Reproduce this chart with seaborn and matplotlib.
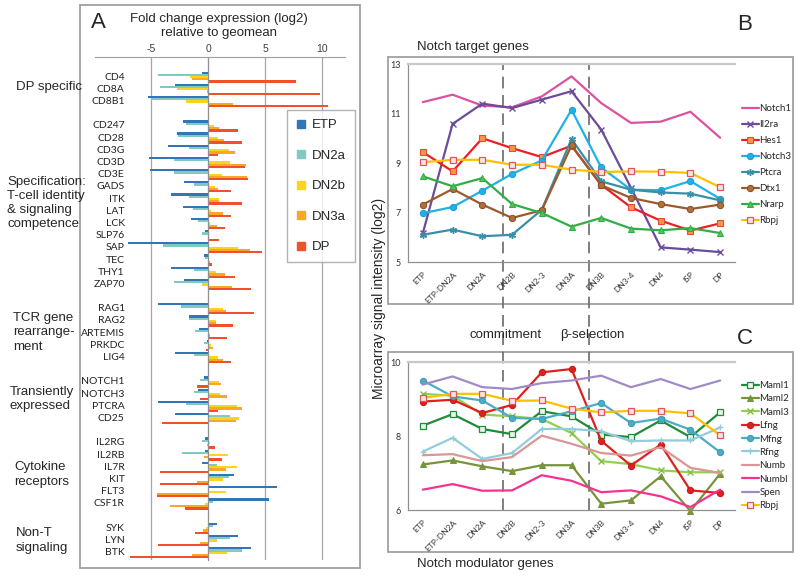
import numpy as np
import pandas as pd
import matplotlib
matplotlib.use("Agg")
import matplotlib.pyplot as plt
from matplotlib.patches import Rectangle
from matplotlib.lines import Line2D
import seaborn as sns

sns.set_style("white")
plt.rcParams['font.family'] = ['Liberation Sans', 'DejaVu Sans']
CAL = ['Lato', 'DejaVu Sans']

# ---------------- Panel A data ----------------
dp_genes = ['CD4', 'CD8A', 'CD8B1']
spec_genes = ['CD247', 'CD28', 'CD3G', 'CD3D', 'CD3E', 'GADS', 'ITK', 'LAT', 'LCK',
              'SLP76', 'SAP', 'TEC', 'THY1', 'ZAP70']
tcr_genes = ['RAG1', 'RAG2', 'ARTEMIS', 'PRKDC', 'LIG4']
trans_genes = ['NOTCH1', 'NOTCH3', 'PTCRA', 'CD25']
cyto_genes = ['IL2RG', 'IL2RB', 'IL7R', 'KIT', 'FLT3', 'CSF1R']
nont_genes = ['SYK', 'LYN', 'BTK']
gene_groups = [dp_genes, spec_genes, tcr_genes, trans_genes, cyto_genes, nont_genes]
group_names = ['DP specific', 'Specification:\nT-cell identity\n& signaling\ncompetence',
               'TCR gene\nrearrange-\nment', 'Transiently\nexpressed',
               'Cytokine\nreceptors', 'Non-T\nsignaling']

stages_a = ['ETP', 'DN2a', 'DN2b', 'DN3a', 'DP']
etp = [-0.55, -2.9, -5.3,
       -2.2, -2.7, -3.5, -5.2, -5.1, -2.1, -3.2, -2.2, -1.5, -0.25, -7.0, -0.35, -3.2, -2.1,
       -4.4, -1.7, -0.75, -0.1, -2.9,
       -0.35, -0.85, -4.4, -2.9,
       -0.25, -0.25, -0.5, 2.3, 6.0, 5.3,
       0.8, 2.6, 3.75]
dn2a = [-4.4, -4.2, -5.0,
        -1.9, -2.6, -1.7, -3.0, -3.0, -1.2, -1.7, -1.3, -0.85, -0.5, -3.9, -0.25, -1.2, -3.0,
        -2.4, -1.7, -1.1, -0.35, -1.2,
        -0.7, -1.2, -1.9, 1.9,
        -0.5, -2.25, 0.8, 1.8, 0.05, 0.45,
        0.45, 1.9, 2.95]
dn2b = [-1.6, -2.7, -1.9,
        0.5, 0.9, 1.8, 1.9, 1.2, 0.6, 1.0, 0.3, 0.2, 0.0, 2.6, 0.1, 0.7, -0.5,
        1.35, 0.7, 0.1, 0.3, 0.9,
        1.0, 1.05, 2.5, 2.7,
        0.2, 1.75, 2.5, 1.3, 1.6, -0.3,
        -0.2, 0.75, 1.65]
dn3a = [-1.4, -0.1, 2.2,
        1.0, 1.4, 2.4, 3.3, 3.45, 0.9, 1.0, 1.35, 0.8, 0.05, 3.7, 0.2, 1.45, 2.1,
        1.6, 0.7, 0.2, 0.4, 1.35,
        1.15, 1.7, 3.0, 2.45,
        -0.05, -0.35, 1.6, -1.0, -4.5, -3.3,
        -0.45, -0.7, -1.4]
dp = [7.7, 9.8, 10.5,
      2.6, 3.0, 0.85, 3.2, 3.5, 2.0, 3.0, 2.0, 1.45, 1.0, 4.7, 0.35, 2.4, 3.8,
      4.0, 2.2, 1.7, -0.2, 2.0,
      -1.0, -0.7, 0.9, -4.0,
      0.65, 1.2, -4.2, -4.2, -4.5, -2.0,
      -1.1, -4.35, -6.8]
colors_a = ['#3276b8', '#7fcbc4', '#ffd21f', '#f9a825', '#f2502a']

# ---------------- Panel B / C data ----------------
stages_bc = ['ETP', 'ETP-DN2A', 'DN2A', 'DN2B', 'DN2-3', 'DN3A', 'DN3B', 'DN3-4', 'DN4', 'ISP', 'DP']
notch1 = [11.46, 11.76, 11.32, 11.25, 11.69, 12.5, 11.42, 10.62, 10.67, 11.07, 10.02]
il2ra = [6.17, 10.58, 11.4, 11.22, 11.56, 11.9, 10.35, 8.0, 5.59, 5.5, 5.4]
hes1 = [9.44, 8.66, 10.0, 9.6, 9.24, 9.7, 8.12, 7.21, 6.67, 6.27, 6.56]
notch3 = [6.97, 7.22, 7.88, 8.56, 9.1, 11.15, 8.82, 7.92, 7.9, 8.27, 7.55]
ptcra = [6.1, 6.31, 6.04, 6.1, 7.11, 9.97, 8.26, 7.92, 7.81, 7.76, 7.49]
dtx1 = [7.32, 7.95, 7.32, 6.78, 7.09, 9.71, 8.1, 7.59, 7.34, 7.14, 7.32]
nrarp = [8.46, 8.06, 8.39, 7.34, 6.98, 6.43, 6.78, 6.35, 6.28, 6.37, 6.17]
rbpj_b = [9.03, 9.13, 9.13, 8.93, 8.93, 8.73, 8.64, 8.66, 8.65, 8.6, 8.02]

maml1 = [8.28, 8.59, 8.19, 8.05, 8.67, 8.53, 8.04, 7.97, 8.42, 7.97, 8.64]
maml2 = [7.23, 7.34, 7.18, 7.05, 7.21, 7.21, 6.17, 6.26, 6.91, 5.97, 6.98]
maml3 = [9.14, 9.09, 8.58, 8.53, 8.46, 8.08, 7.32, 7.24, 7.07, 7.02, 7.02]
lfng = [8.93, 8.98, 8.62, 8.84, 9.72, 9.81, 7.87, 7.2, 7.77, 6.53, 6.46]
mfng = [9.5, 9.07, 8.96, 8.49, 8.46, 8.67, 8.89, 8.35, 8.47, 8.17, 7.56]
rfng = [7.58, 7.95, 7.38, 7.54, 8.19, 8.19, 8.13, 7.86, 7.88, 7.88, 8.23]
numb = [7.48, 7.51, 7.32, 7.43, 8.01, 7.79, 7.54, 7.47, 7.7, 7.14, 7.0]
numbl = [6.55, 6.7, 6.52, 6.53, 6.94, 6.79, 6.48, 6.53, 6.37, 6.08, 6.55]
spen = [9.39, 9.61, 9.32, 9.27, 9.43, 9.5, 9.63, 9.32, 9.54, 9.27, 9.5]
rbpj_c = [9.03, 9.14, 9.14, 8.95, 8.96, 8.74, 8.64, 8.68, 8.68, 8.61, 8.02]

dashed_at = [2.71, 5.6]

# ---------------- Figure ----------------
W, H = 800, 578
fig = plt.figure(figsize=(8, 5.78), dpi=100)


def fx(px):
    return px / W


def fy(py):
    return 1 - py / H


def axes_px(x0, y0, x1, y1):
    return fig.add_axes([fx(x0), fy(y1), (x1 - x0) / W, (y1 - y0) / H])


# boxes
for (x0, y0, x1, y1) in [(80, 5, 360, 568), (388, 57, 793, 304), (388, 352, 793, 552)]:
    fig.add_artist(Rectangle((fx(x0), fy(y1)), (x1 - x0) / W, (y1 - y0) / H,
                             transform=fig.transFigure, fill=False,
                             edgecolor='#a0a0a0', linewidth=1.3, zorder=-5))

# ---------------- Panel A ----------------
axA = axes_px(95, 57, 345, 560)
order = []
for k, g in enumerate(gene_groups):
    if k > 0:
        order.append(' ' * k)
    order.extend(g)
genes_all = [g for grp in gene_groups for g in grp]
df_a = pd.DataFrame({
    'gene': genes_all * 5,
    'stage': np.repeat(stages_a, len(genes_all)),
    'value': etp + dn2a + dn2b + dn3a + dp,
})
sns.barplot(data=df_a, y='gene', x='value', hue='stage', order=order, hue_order=stages_a,
            palette=colors_a, orient='h', errorbar=None, width=0.92, saturation=1,
            linewidth=0, legend=False, ax=axA)
axA.set_xlim(-9.9, 12.0)
axA.set_ylim(39.6, -1.65)
axA.set_xlabel('')
axA.set_ylabel('')
axA.xaxis.tick_top()
axA.set_xticks([-5, 0, 5, 10])
axA.set_xticklabels(['-5', '0', '5', '10'], fontsize=7.5)
axA.tick_params(axis='x', length=0, pad=2, colors='#404040')
axA.set_yticks([])
axA.set_yticks(np.arange(-0.5, 40, 1), minor=True)
axA.tick_params(axis='y', which='minor', length=3, direction='out', color='#909090', width=0.8)
for s in ['right', 'bottom']:
    axA.spines[s].set_visible(False)
axA.spines['left'].set_position(('data', 0))
axA.spines['left'].set_color('#909090')
axA.spines['top'].set_color('#a0a0a0')
axA.grid(axis='x', color='#a6a6a6', linewidth=0.9)
axA.set_axisbelow(True)
axA.set_facecolor('none')
for i, g in enumerate(order):
    if g.strip():
        axA.text(-7.3, i, g, ha='right', va='center', fontsize=7.5, family=CAL, color='#222222')

handles = [Line2D([], [], marker='s', linestyle='none', markersize=6, color=c,
                  markeredgecolor=c) for c in colors_a]
legA = axA.legend(handles, stages_a, loc='upper left', bbox_to_anchor=(fx(287), fy(110)),
                  bbox_transform=fig.transFigure, fontsize=9.5, frameon=True, fancybox=False,
                  edgecolor='#a0a0a0', labelspacing=1.38, handlelength=0.7,
                  handletextpad=0.5, borderpad=0.7, borderaxespad=0)
legA.get_frame().set_linewidth(1.0)

fig.text(fx(98), fy(23), 'A', fontsize=16, ha='center', va='center')
fig.text(fx(219), fy(26), 'Fold change expression (log2)\nrelative to geomean',
         fontsize=9.5, ha='center', va='center', linespacing=1.3)

group_y = [87, 203, 332.5, 399, 474.5, 540.5]
group_x = [16, 7, 13, 10, 14, 16]
for name, gx, gy in zip(group_names, group_x, group_y):
    fig.text(fx(gx), fy(gy), name, fontsize=9.5, ha='left', va='center', linespacing=1.25)

# ---------------- Panel B ----------------
xpos = np.arange(len(stages_bc))
axB = axes_px(408, 64, 735, 262)
series_b = [
    ('Notch1', notch1, dict(color='#dc52a0', marker=None)),
    ('Il2ra', il2ra, dict(color='#6b4c9a', marker='x', markeredgecolor='#6b4c9a',
                          markersize=4.5, markeredgewidth=1.0)),
    ('Hes1', hes1, dict(color='#ee1d23', marker='s', markerfacecolor='#f79646',
                        markeredgecolor='#e8493a', markersize=4.5, markeredgewidth=0.8)),
    ('Notch3', notch3, dict(color='#22b0e6', marker='o', markerfacecolor='#22b0e6',
                            markeredgecolor='#1a9fd4', markersize=4.5)),
    ('Ptcra', ptcra, dict(color='#3a8fa8', marker=(6, 2, 0), markeredgecolor='#3a8fa8',
                          markersize=5, markeredgewidth=1.0)),
    ('Dtx1', dtx1, dict(color='#9c5a2c', marker='o', markerfacecolor='#b0703c',
                        markeredgecolor='#8a4e25', markersize=4.5)),
    ('Nrarp', nrarp, dict(color='#2eae45', marker='^', markerfacecolor='#5cbf5c',
                          markeredgecolor='#2eae45', markersize=4.5)),
    ('Rbpj', rbpj_b, dict(color='#ffc000', marker='s', markerfacecolor='#fde4e4',
                          markeredgecolor='#e0555e', markersize=5, markeredgewidth=0.9)),
]
for name, vals, kw in series_b:
    sns.lineplot(x=xpos, y=vals, ax=axB, linewidth=1.6, label=name, **kw)

# ---------------- Panel C ----------------
axC = axes_px(408, 362, 735, 510)
series_c = [
    ('Maml1', maml1, dict(color='#1e8c3a', marker='s', markerfacecolor='#e8f5e8',
                          markeredgecolor='#1e8c3a', markersize=4.5, markeredgewidth=0.9)),
    ('Maml2', maml2, dict(color='#77933c', marker='^', markerfacecolor='#77933c',
                          markeredgecolor='#77933c', markersize=4.5)),
    ('Maml3', maml3, dict(color='#92d050', marker='x', markeredgecolor='#86c040',
                          markersize=4.5, markeredgewidth=1.0)),
    ('Lfng', lfng, dict(color='#e0201f', marker='o', markerfacecolor='#e0201f',
                        markeredgecolor='#c81818', markersize=4.5)),
    ('Mfng', mfng, dict(color='#4bacc6', marker='o', markerfacecolor='#4bacc6',
                        markeredgecolor='#3b9cb6', markersize=4.5)),
    ('Rfng', rfng, dict(color='#93cddd', marker='+', markeredgecolor='#93cddd',
                        markersize=4.5, markeredgewidth=1.0)),
    ('Numb', numb, dict(color='#d99694', marker=None)),
    ('Numbl', numbl, dict(color='#f5338f', marker=None)),
    ('Spen', spen, dict(color='#a08ac8', marker=None)),
    ('Rbpj', rbpj_c, dict(color='#ffc000', marker='s', markerfacecolor='#fde4e4',
                          markeredgecolor='#e0555e', markersize=5, markeredgewidth=0.9)),
]
for name, vals, kw in series_c:
    sns.lineplot(x=xpos, y=vals, ax=axC, linewidth=1.6, label=name, clip_on=False, **kw)

for ax, ylo, yhi, maj in [(axB, 5, 13, [5, 7, 9, 11, 13]), (axC, 6, 10, [6, 8, 10])]:
    ax.set_xlim(-0.5, 10.5)
    ax.set_ylim(ylo, yhi)
    ax.set_facecolor('none')
    ax.set_xlabel('')
    ax.set_ylabel('')
    ax.set_xticks(xpos)
    ax.set_xticklabels(stages_bc, rotation=45, ha='right', rotation_mode='anchor',
                       fontsize=6, family=CAL, color='#333333')
    ax.set_xticks(np.arange(-0.5, 11, 1), minor=True)
    ax.set_yticks(maj)
    ax.set_yticklabels([str(v) for v in maj], fontsize=6.5, family=CAL, color='#333333')
    ax.set_yticks(np.arange(ylo, yhi + 0.5, 1), minor=True)
    ax.tick_params(axis='x', which='major', length=0, pad=6)
    ax.tick_params(axis='x', which='minor', length=3, direction='out', color='#909090')
    ax.tick_params(axis='y', which='both', length=3, direction='out', color='#909090', pad=2)
    ax.spines['right'].set_visible(False)
    for s in ['left', 'bottom']:
        ax.spines[s].set_color('#909090')
        ax.spines[s].set_linewidth(0.9)
    ax.spines['top'].set_color('#c8c8c8')
    ax.spines['top'].set_linewidth(1.6)

axB.legend(loc='upper left', bbox_to_anchor=(fx(742), fy(104)), bbox_transform=fig.transFigure,
           frameon=False, prop={'family': CAL, 'size': 7}, labelspacing=0.72,
           handlelength=1.7, handletextpad=0.1, borderaxespad=0, borderpad=0)
axC.legend(loc='upper left', bbox_to_anchor=(fx(742), fy(381)), bbox_transform=fig.transFigure,
           frameon=False, prop={'family': CAL, 'size': 7}, labelspacing=0.45,
           handlelength=1.7, handletextpad=0.1, borderaxespad=0, borderpad=0)

# dashed stage boundaries spanning both panels
span = (510 - 262) / 198
for xv in dashed_at:
    axB.axvline(xv, ymin=-span, ymax=1, clip_on=False, color='#6a6a6a',
                linestyle=(0, (7, 4)), linewidth=1.2, zorder=0.5)

fig.text(fx(745), fy(24), 'B', fontsize=16, ha='center', va='center')
fig.text(fx(745), fy(338), 'C', fontsize=16, ha='center', va='center')
fig.text(fx(417), fy(47), 'Notch target genes', fontsize=9.5, ha='left', va='center')
fig.text(fx(417), fy(564), 'Notch modulator genes', fontsize=9.5, ha='left', va='center')
fig.text(fx(506), fy(335), 'commitment', fontsize=9.5, ha='center', va='center')
fig.text(fx(592), fy(335), 'β-selection', fontsize=9.5, ha='center', va='center')
fig.text(fx(379), fy(298), 'Microarray signal intensity (log2)', fontsize=10, rotation=90,
         ha='center', va='center')

fig.savefig('out.png', dpi=100)
